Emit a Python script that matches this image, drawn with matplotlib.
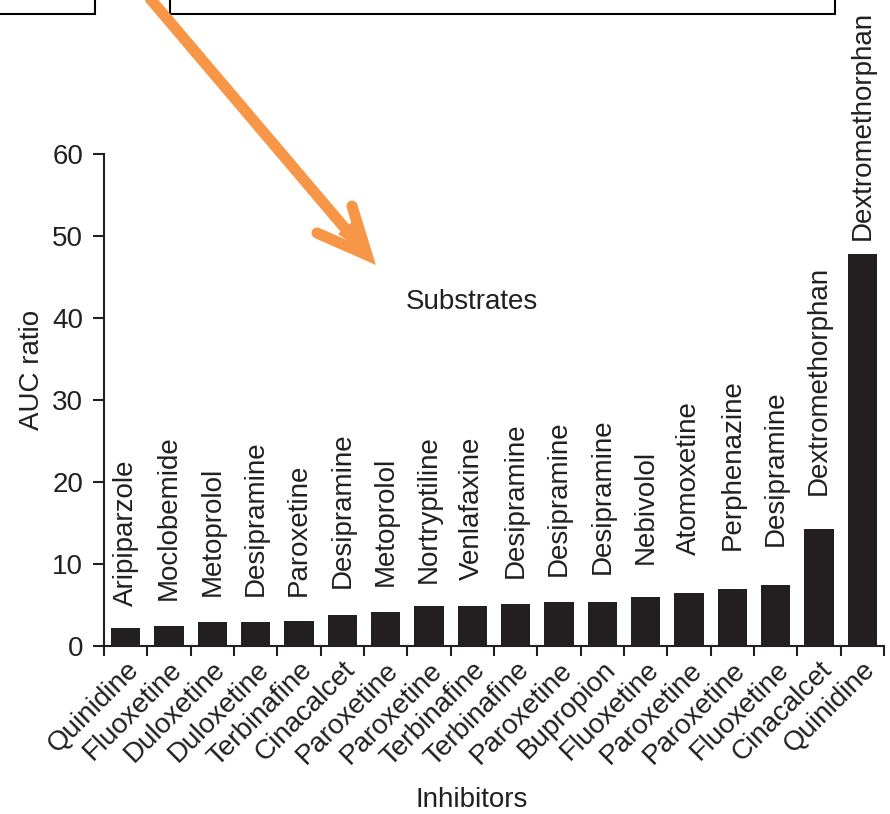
import matplotlib
matplotlib.use("Agg")
import matplotlib.pyplot as plt
from matplotlib.lines import Line2D
from matplotlib.patches import Rectangle, Polygon
import numpy as np

plt.rcParams['font.family'] = ['Liberation Sans', 'DejaVu Sans']

# Inhibitor (x axis) and substrate (label above bar) per pair, with AUC ratio
inhibitors = ["Quinidine", "Fluoxetine", "Duloxetine", "Duloxetine", "Terbinafine",
              "Cinacalcet", "Paroxetine", "Paroxetine", "Terbinafine", "Terbinafine",
              "Paroxetine", "Bupropion", "Fluoxetine", "Paroxetine", "Paroxetine",
              "Fluoxetine", "Cinacalcet", "Quinidine"]
substrates = ["Aripiparzole", "Moclobemide", "Metoprolol", "Desipramine", "Paroxetine",
              "Desipramine", "Metoprolol", "Nortryptiline", "Venlafaxine", "Desipramine",
              "Desipramine", "Desipramine", "Nebivolol", "Atomoxetine", "Perphenazine",
              "Desipramine", "Dextromethorphan", "Dextromethorphan"]
auc_ratio = [2.1, 2.4, 2.85, 2.85, 3.0, 3.7, 4.15, 4.8, 4.8, 5.1,
             5.3, 5.3, 6.0, 6.4, 6.9, 7.4, 14.2, 47.8]
y_ticks = [0, 10, 20, 30, 40, 50, 60]

# gap (in axis units) between each bar top and its substrate label
label_gap = [2.75, 3.2, 3.25, 3.25, 3.1, 3.3, 3.15, 2.9, 3.2, 3.2,
             3.2, 3.45, 4.0, 4.7, 4.8, 4.8, 4.2, 1.7]

W, H = 890, 814
fig = plt.figure(figsize=(W / 100, H / 100), dpi=100)
ax = fig.add_axes([104 / W, 1 - 645.7 / H, 780 / W, (645.7 - 154) / H])

ink = "#231f20"
fs = 20
x = np.arange(len(auc_ratio))
ax.bar(x, auc_ratio, width=0.68, color=ink, edgecolor=ink, linewidth=0)

for xi, v, name, g in zip(x, auc_ratio, substrates, label_gap):
    ax.text(xi, v + g, name, rotation=90, ha="center", va="bottom",
            fontsize=fs, color=ink)

ax.text(8.0, 42.0, "Substrates", ha="center", va="center", fontsize=fs, color=ink)

ax.set_xlim(-0.5, len(auc_ratio) - 0.5)
ax.set_ylim(0, 60)
ax.set_yticks(y_ticks)
ax.set_yticklabels([str(t) for t in y_ticks], fontsize=fs, color=ink)

# labels at bar centres, tick marks at category boundaries
ax.set_xticks(x)
ax.set_xticklabels(inhibitors, rotation=45, ha="right", va="top",
                   rotation_mode="anchor", fontsize=fs, color=ink)
ax.set_xticks(np.arange(len(auc_ratio) + 1) - 0.5, minor=True)
ax.tick_params(axis="x", which="major", length=0, pad=8)
ax.tick_params(axis="x", which="minor", length=7, width=1.5, color=ink)
ax.tick_params(axis="y", length=8, width=1.5, color=ink, pad=7)

for side in ("top", "right"):
    ax.spines[side].set_visible(False)
for side in ("left", "bottom"):
    ax.spines[side].set_linewidth(1.5)
    ax.spines[side].set_color(ink)

ax.set_ylabel("AUC ratio", fontsize=fs, color=ink)
ax.yaxis.set_label_coords((32 - 104) / 780, (645.7 - 370) / (645.7 - 154))
ax.set_xlabel("Inhibitors", fontsize=fs, color=ink)
ax.xaxis.set_label_coords((472 - 104) / 780, -(800 - 645.7) / (645.7 - 154))
ax.xaxis.label.set_va("center")
ax.yaxis.label.set_va("center")


def fp(px, py):
    return px / W, 1 - py / H


# framed boxes along the top edge
lw_box = 1.5
for (x0, y0, x1, y1) in [(-20, -20, 95, 14), (170, -20, 835, 14)]:
    a0 = fp(x0, y1)
    a1 = fp(x1, y0)
    fig.add_artist(Rectangle(a0, a1[0] - a0[0], a1[1] - a0[1], transform=fig.transFigure,
                             fill=False, edgecolor="black", linewidth=lw_box))

# orange pointer arrow
orange = "#f79646"
tip = (367, 255)
start = (147, -5)
shaft_end = (360, 246)
left_barb = (317, 233)
right_barb = (352, 206)
for pts in [(start, shaft_end), (left_barb, tip, right_barb)]:
    xs = [fp(*p)[0] for p in pts]
    ys = [fp(*p)[1] for p in pts]
    fig.add_artist(Line2D(xs, ys, transform=fig.transFigure, color=orange,
                          linewidth=8, solid_capstyle="round", solid_joinstyle="miter"))
# solid wedge filling the inside of the head near the tip
head_fill = [fp(*tip), fp(338, 234), fp(352, 222)]
fig.add_artist(Polygon(head_fill, closed=True, transform=fig.transFigure,
                       facecolor=orange, edgecolor="none"))

fig.savefig("out.png", dpi=100)
